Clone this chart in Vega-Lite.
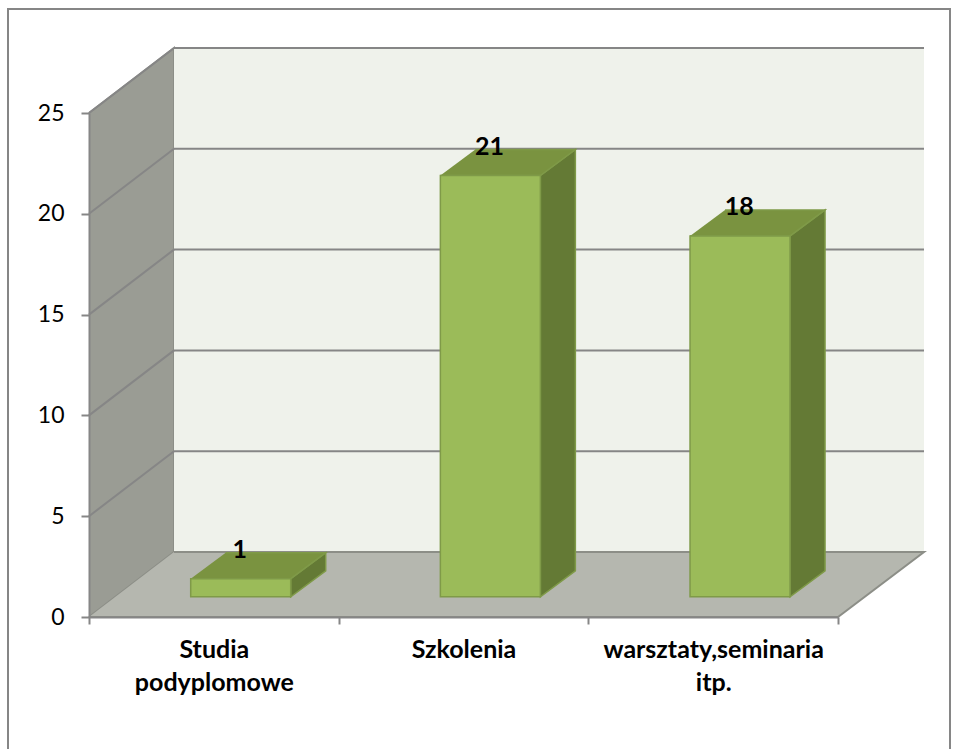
{
"$schema":"https://vega.github.io/schema/vega-lite/v6.json",
"width":749,"height":504,
"autosize":{"type":"none"},
"padding":{"left":89,"top":113,"right":119,"bottom":132},
"background":"#ffffff",
"config":{"view":{"stroke":null},"font":"Lato"},
"datasets":{
"bars":[{"category":"Studia podyplomowe","value":1},{"category":"Szkolenia","value":21},{"category":"warsztaty,seminaria itp.","value":18}],
"border":[{"corner":0,"y":-7},{"corner":1,"y":30.16},{"corner":2,"y":30.16},{"corner":3,"y":-7}],
"sideWall":[{"corner":0,"y":25},{"corner":1,"y":28.224},{"corner":2,"y":3.224},{"corner":3,"y":0}],
"backWall":[{"corner":0,"y":28.224},{"corner":1,"y":28.224},{"corner":2,"y":3.224},{"corner":3,"y":3.224}],
"floor":[{"corner":0,"y":0},{"corner":1,"y":0},{"corner":2,"y":3.224},{"corner":3,"y":3.224}],
"levels":[{"level":5},{"level":10},{"level":15},{"level":20},{"level":25}]
},
"resolve":{"scale":{"xOffset":"independent"}},
"layer":[
{"data":{"name":"border"},"mark":{"type":"line","stroke":"#868686","strokeWidth":2,"clip":false},
 "encoding":{"x":{"datum":"Studia podyplomowe","type":"nominal","scale":{"domain":["Studia podyplomowe","Szkolenia","warsztaty,seminaria itp."],"paddingInner":0,"paddingOuter":0},"axis":{"title":null,"tickBand":"extent","labelAngle":0,"labelFont":"Lato","labelFontWeight":"bold","labelFontSize":25,"labelLimit":400,"labelColor":"#000000","labelLineHeight":33,"labelPadding":13,"tickSize":7,"tickWidth":2,"tickColor":"#868686","domainWidth":2,"domainColor":"#868686","zindex":1,"labelExpr":"datum.label=='Studia podyplomowe'?['Studia','podyplomowe']:datum.label=='Szkolenia'?'Szkolenia':datum.label=='warsztaty,seminaria itp.'?['warsztaty,seminaria','itp.']:''"}},
 "y":{"field":"y","type":"quantitative","scale":{"domain":[0,25],"nice":false},"axis":{"title":null,"values":[0,5,10,15,20,25],"grid":false,"labelFont":"Lato","labelFontSize":23,"labelColor":"#000000","labelPadding":17,"tickSize":8,"tickWidth":2,"tickColor":"#868686","domainWidth":2,"domainColor":"#868686","zindex":1}},
 "xOffset":{"field":"corner","type":"quantitative","scale":{"domain":[0,1,2,3],"range":[-81,-81,861,861]}},
 "order":{"field":"corner"}}},
{"data":{"name":"sideWall"},"mark":{"type":"line","fill":"#9a9c94","stroke":"#8c8e87","strokeWidth":2},
 "encoding":{"x":{"datum":"Studia podyplomowe","type":"nominal"},
 "y":{"field":"y","type":"quantitative"},
 "xOffset":{"field":"corner","type":"quantitative","scale":{"domain":[0,1,2,3],"range":[0,85,85,0]}},
 "order":{"field":"corner"}}},
{"data":{"name":"backWall"},"mark":{"type":"line","fill":"#eff2eb","strokeWidth":0},
 "encoding":{"x":{"datum":"Studia podyplomowe","type":"nominal"},
 "y":{"field":"y","type":"quantitative"},
 "xOffset":{"field":"corner","type":"quantitative","scale":{"domain":[0,1,2,3],"range":[85,835,835,85]}},
 "order":{"field":"corner"}}},
{"data":{"name":"floor"},"mark":{"type":"line","fill":"#b5b7af","stroke":"#8c8e87","strokeWidth":2},
 "encoding":{"x":{"datum":"Studia podyplomowe","type":"nominal"},
 "y":{"field":"y","type":"quantitative"},
 "xOffset":{"field":"corner","type":"quantitative","scale":{"domain":[0,1,2,3],"range":[0,749,835,85]}},
 "order":{"field":"corner"}}},
{"data":{"name":"levels"},"transform":[{"calculate":"[0,1]","as":"depth"},{"flatten":["depth"]},{"calculate":"datum.level+3.224","as":"y"}],"mark":{"type":"line","stroke":"#868686","strokeWidth":2},
 "encoding":{"x":{"datum":"Studia podyplomowe","type":"nominal"},
 "y":{"field":"y","type":"quantitative"},
 "detail":{"field":"level"},
 "xOffset":{"field":"depth","type":"quantitative","scale":{"domain":[0,1],"range":[85,835]}},
 "order":{"field":"depth"}}},
{"data":{"name":"levels"},"transform":[{"calculate":"[0,1]","as":"depth"},{"flatten":["depth"]},{"calculate":"datum.level+3.224*datum.depth","as":"y"}],"mark":{"type":"line","stroke":"#868686","strokeWidth":2},
 "encoding":{"x":{"datum":"Studia podyplomowe","type":"nominal"},
 "y":{"field":"y","type":"quantitative"},
 "detail":{"field":"level"},
 "xOffset":{"field":"depth","type":"quantitative","scale":{"domain":[0,1],"range":[0,85]}},
 "order":{"field":"depth"}}},
{"data":{"name":"bars"},"transform":[{"calculate":"[0,1]","as":"depth"},{"flatten":["depth"]},{"calculate":"datum.value+0.9+1.29*datum.depth","as":"top"},{"calculate":"1+1.29*datum.depth","as":"base"}],"mark":{"type":"area","fill":"#647a35","stroke":"#7f9a48","strokeWidth":1.5},
 "encoding":{"x":{"field":"category","type":"nominal"},
 "y":{"field":"top","type":"quantitative"},"y2":{"field":"base"},
 "detail":{"field":"category"},
 "xOffset":{"field":"depth","type":"quantitative","scale":{"domain":[0,1],"range":[201.7,236.7]}}}},
{"data":{"name":"bars"},"transform":[{"calculate":"[0,1,2,3]","as":"corner"},{"flatten":["corner"]},{"calculate":"datum.value+0.9+(datum.corner>=2?1.29:0)","as":"top"}],"mark":{"type":"line","fill":"#7a9340","stroke":"#7f9a48","strokeWidth":1.5},
 "encoding":{"x":{"field":"category","type":"nominal"},
 "y":{"field":"top","type":"quantitative"},
 "detail":{"field":"category"},
 "xOffset":{"field":"corner","type":"quantitative","scale":{"domain":[0,1,2,3],"range":[101.7,201.7,236.7,136.7]}},
 "order":{"field":"corner"}}},
{"data":{"name":"bars"},"transform":[{"calculate":"[0,1]","as":"depth"},{"flatten":["depth"]},{"calculate":"datum.value+0.9","as":"top"},{"calculate":"1","as":"base"}],"mark":{"type":"area","fill":"#9bbb59","stroke":"#7f9a48","strokeWidth":1.5},
 "encoding":{"x":{"field":"category","type":"nominal"},
 "y":{"field":"top","type":"quantitative"},"y2":{"field":"base"},
 "detail":{"field":"category"},
 "xOffset":{"field":"depth","type":"quantitative","scale":{"domain":[0,1],"range":[101.7,201.7]}}}},
{"data":{"name":"bars"},"mark":{"type":"text","font":"Lato","fontWeight":"bold","fontSize":25,"color":"#000000","xOffset":26,"yOffset":-47,"baseline":"middle"},
 "encoding":{"x":{"field":"category","type":"nominal"},
 "y":{"field":"value","type":"quantitative"},
 "text":{"field":"value","type":"quantitative"}}}
]
}
